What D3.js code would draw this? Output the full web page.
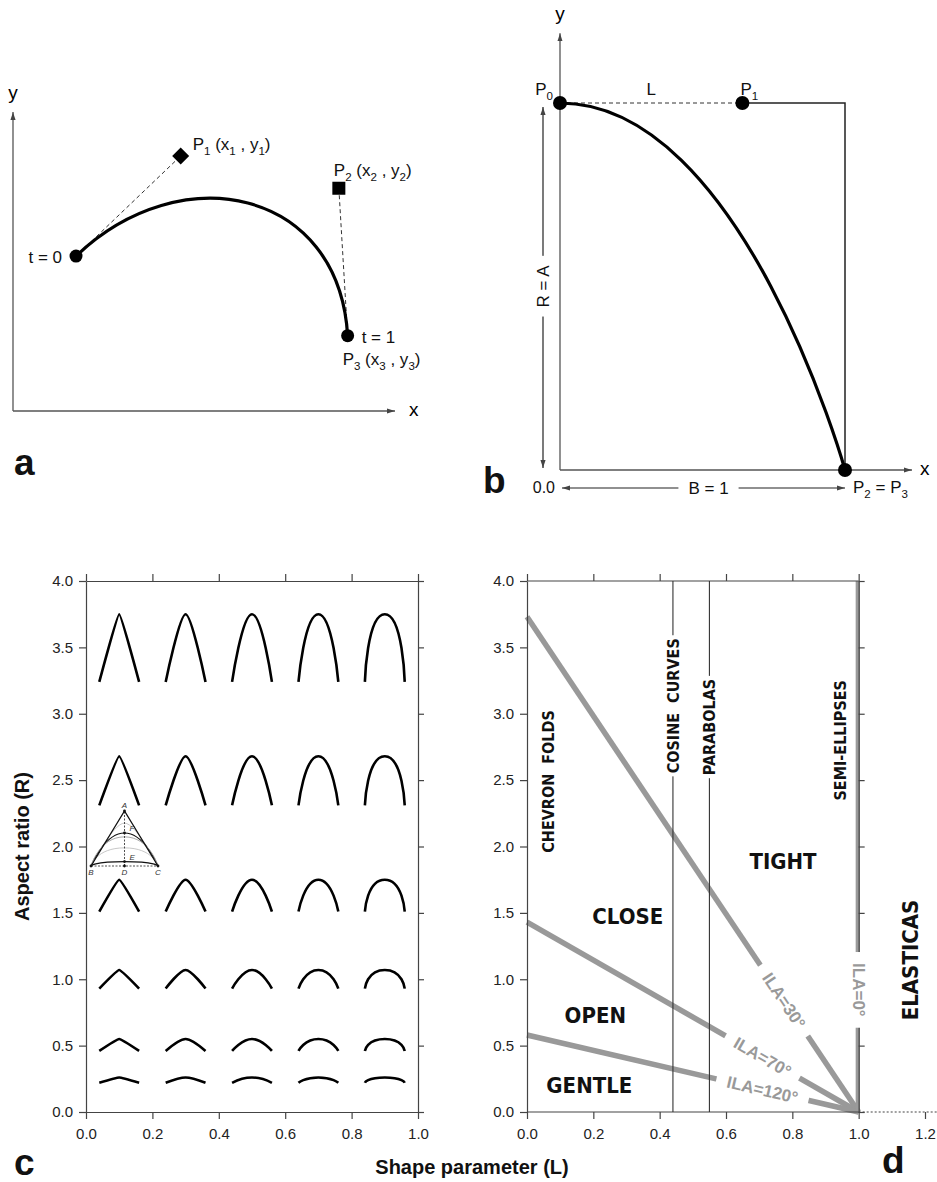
<!DOCTYPE html>
<html>
<head>
<meta charset="utf-8">
<script src="https://cdn.jsdelivr.net/npm/d3@7"></script>
<style>
  body { margin: 0; background: #fff; }
  svg { display: block; font-family: "Liberation Sans", Arial, sans-serif; }
  text { white-space: pre; }
  .narrow { font-family: "Liberation Sans Narrow", "Arial Narrow", "DejaVu Sans Condensed", sans-serif; font-weight: bold; }
  .tick text { font-family: "Liberation Sans", Arial, sans-serif; font-size: 15px; fill: #222; }
  .tick line, .domain { stroke: #444; stroke-width: 1.2; }
</style>
</head>
<body>
<div id="chart"></div>
<script>
// ---------- data ----------
// panel a: cubic Bezier control points P0..P3 (axis units 0..1)
const ctrlX = [0.165, 0.439, 0.853, 0.876];
const ctrlY = [0.518, 0.853, 0.745, 0.252];

// panel b: quarter fold with B = 1, R = A = 1 and shape parameter L
const foldL = 0.64;

// panel c: grid of fold glyphs
const glyphL = [0.1, 0.3, 0.5, 0.7, 0.9];          // column centre = shape parameter
const glyphApex = [3.75, 2.68, 1.75, 1.07, 0.55, 0.26];
const glyphBase = [3.24, 2.31, 1.51, 0.93, 0.46, 0.22];
const glyphHalfWidth = 0.06;

// inset triangle: fold curves (hinge height, shape parameter, tone)
const insetH = [0.78, 0.60, 0.53, 0.33, 0.08];
const insetL = [0.35, 0.60, 0.75, 0.85, 0.95];
const insetTone = ["#c8c8c8", "#111", "#aaa", "#c8c8c8", "#111"];

// panel d
const ilaNames = ["ILA=30°", "ILA=70°", "ILA=120°"];
const ilaR0 = [3.73, 1.43, 0.58];                    // R at L = 0, all meet at (1, 0)
const shapeNames = ["COSINE  CURVES", "PARABOLAS"];
const shapeL = [0.44, 0.55];
const regionNames = ["TIGHT", "CLOSE", "OPEN", "GENTLE"];

const xTicks = [0, 0.2, 0.4, 0.6, 0.8, 1.0];
const xTicksD = [0, 0.2, 0.4, 0.6, 0.8, 1.0, 1.2];
const yTicks = [0, 0.5, 1.0, 1.5, 2.0, 2.5, 3.0, 3.5, 4.0];

// ---------- setup ----------
const W = 937, H = 1182;
const svg = d3.select("#chart").append("svg").attr("width", W).attr("height", H);

svg.append("defs").append("marker")
    .attr("id", "arrow")
    .attr("viewBox", "0 0 10 10")
    .attr("refX", 10).attr("refY", 5)
    .attr("markerWidth", 8).attr("markerHeight", 8)
    .attr("markerUnits", "userSpaceOnUse")
    .attr("orient", "auto-start-reverse")
    .append("path")
    .attr("d", "M0,1.8L10,5L0,8.2z")
    .attr("fill", "#444");

// text with subscripts: parts = [[string, isSub], ...]
function richText(g, x, y, parts, size, anchor) {
    const t = g.append("text").attr("x", x).attr("y", y)
        .attr("font-size", size).attr("text-anchor", anchor || "start").attr("fill", "#111");
    let prev = false;
    const s = size * 0.3;
    parts.forEach(([str, sub]) => {
        t.append("tspan").text(str)
            .attr("font-size", sub ? size * 0.68 : size)
            .attr("dy", (sub ? s : 0) - (prev ? s : 0));
        prev = sub;
    });
    return t;
}

// label with a white box behind it (cuts the line it sits on)
function haloText(g, x, y, angle, txt, cls, size, fill, pad) {
    const gg = g.append("g").attr("transform", `translate(${x},${y}) rotate(${angle})`);
    const r = gg.append("rect").attr("fill", "#fff");
    const t = gg.append("text").attr("class", cls)
        .attr("text-anchor", "middle").attr("dy", "0.35em")
        .attr("font-size", size).attr("fill", fill).text(txt);
    const bb = t.node().getBBox();
    r.attr("x", bb.x - pad).attr("y", bb.y).attr("width", bb.width + 2 * pad).attr("height", bb.height);
    return gg;
}

// symmetric fold: each limb is a cubic Bezier P0 = hinge, P1 = (L, 1), P2 = P3 = inflection
function foldPath(cx, hw, apex, base, L, xs, ys) {
    const X = u => xs(cx + u * hw), Y = v => ys(base + v * (apex - base));
    const p = d3.path();
    p.moveTo(X(-1), Y(0));
    p.bezierCurveTo(X(-1), Y(0), X(-L), Y(1), X(0), Y(1));
    p.bezierCurveTo(X(L), Y(1), X(1), Y(0), X(1), Y(0));
    return p.toString();
}

function panelLetter(x, y, s) {
    svg.append("text").attr("x", x).attr("y", y).attr("font-size", 37)
        .attr("font-weight", "bold").attr("fill", "#111").text(s);
}

// ---------- panel a ----------
const xA = d3.scaleLinear().domain([0, 1]).range([13, 395]);
const yA = d3.scaleLinear().domain([0, 1]).range([411, 112]);
const gA = svg.append("g");

gA.append("line").attr("x1", xA(0)).attr("y1", yA(0)).attr("x2", xA(1)).attr("y2", yA(0))
    .attr("stroke", "#555").attr("stroke-width", 1.3).attr("marker-end", "url(#arrow)");
gA.append("line").attr("x1", xA(0)).attr("y1", yA(0)).attr("x2", xA(0)).attr("y2", yA(1))
    .attr("stroke", "#555").attr("stroke-width", 1.3).attr("marker-end", "url(#arrow)");
gA.append("text").attr("x", xA(0)).attr("y", yA(1) - 13).attr("text-anchor", "middle")
    .attr("font-size", 19).text("y");
gA.append("text").attr("x", xA(1) + 14).attr("y", yA(0) + 5).attr("font-size", 19).text("x");

const pa = ctrlX.map((x, i) => [xA(x), yA(ctrlY[i])]);
[[0, 1], [2, 3]].forEach(([i, j]) => {
    gA.append("line").attr("x1", pa[i][0]).attr("y1", pa[i][1]).attr("x2", pa[j][0]).attr("y2", pa[j][1])
        .attr("stroke", "#333").attr("stroke-width", 1).attr("stroke-dasharray", "4,3");
});
const pathA = d3.path();
pathA.moveTo(...pa[0]);
pathA.bezierCurveTo(...pa[1], ...pa[2], ...pa[3]);
gA.append("path").attr("d", pathA.toString()).attr("fill", "none")
    .attr("stroke", "#000").attr("stroke-width", 3.2);

gA.append("circle").attr("cx", pa[0][0]).attr("cy", pa[0][1]).attr("r", 6.5).attr("fill", "#000");
gA.append("circle").attr("cx", pa[3][0]).attr("cy", pa[3][1]).attr("r", 6.5).attr("fill", "#000");
gA.append("rect").attr("x", -6).attr("y", -6).attr("width", 12).attr("height", 12)
    .attr("transform", `translate(${pa[1][0]},${pa[1][1]}) rotate(45)`).attr("fill", "#000");
gA.append("rect").attr("x", pa[2][0] - 6.5).attr("y", pa[2][1] - 6.5)
    .attr("width", 13).attr("height", 13).attr("fill", "#000");

richText(gA, pa[0][0] - 14, pa[0][1] + 7, [["t = 0", false]], 17, "end");
richText(gA, pa[1][0] + 12, pa[1][1] - 6,
    [["P", false], ["1", true], [" (x", false], ["1", true], [" , y", false], ["1", true], [")", false]], 17);
richText(gA, pa[2][0] - 5, pa[2][1] - 12,
    [["P", false], ["2", true], [" (x", false], ["2", true], [" , y", false], ["2", true], [")", false]], 17);
richText(gA, pa[3][0] + 14, pa[3][1] + 7.5, [["t = 1", false]], 17);
richText(gA, pa[3][0] - 5, pa[3][1] + 29,
    [["P", false], ["3", true], [" (x", false], ["3", true], [" , y", false], ["3", true], [")", false]], 17);
panelLetter(14, 475, "a");

// ---------- panel b ----------
const xB = d3.scaleLinear().domain([0, 1]).range([560, 845]);
const yB = d3.scaleLinear().domain([0, 1]).range([470, 103]);
const gB = svg.append("g");

gB.append("line").attr("x1", xB(0)).attr("y1", yB(0)).attr("x2", xB(1.235)).attr("y2", yB(0))
    .attr("stroke", "#555").attr("stroke-width", 1.3).attr("marker-end", "url(#arrow)");
gB.append("line").attr("x1", xB(0)).attr("y1", yB(0)).attr("x2", xB(0)).attr("y2", yB(1.19))
    .attr("stroke", "#555").attr("stroke-width", 1.3).attr("marker-end", "url(#arrow)");
gB.append("text").attr("x", xB(0)).attr("y", yB(1.19) - 13).attr("text-anchor", "middle")
    .attr("font-size", 19).text("y");
gB.append("text").attr("x", xB(1.235) + 8).attr("y", yB(0) + 5).attr("font-size", 19).text("x");

// bounding box B x A (top and right sides)
gB.append("path")
    .attr("d", `M${xB(foldL)},${yB(1)}H${xB(1)}V${yB(0)}`)
    .attr("fill", "none").attr("stroke", "#222").attr("stroke-width", 1.5);
gB.append("line").attr("x1", xB(0)).attr("y1", yB(1)).attr("x2", xB(foldL)).attr("y2", yB(1))
    .attr("stroke", "#333").attr("stroke-width", 1).attr("stroke-dasharray", "4,3");

const pathB = d3.path();
pathB.moveTo(xB(0), yB(1));
pathB.bezierCurveTo(xB(foldL), yB(1), xB(1), yB(0), xB(1), yB(0));
gB.append("path").attr("d", pathB.toString()).attr("fill", "none")
    .attr("stroke", "#000").attr("stroke-width", 3.2);
[[0, 1], [foldL, 1], [1, 0]].forEach(([x, y]) => {
    gB.append("circle").attr("cx", xB(x)).attr("cy", yB(y)).attr("r", 7).attr("fill", "#000");
});

richText(gB, xB(0) - 7, yB(1) - 8, [["P", false], ["0", true]], 17, "end");
richText(gB, (xB(0) + xB(foldL)) / 2, yB(1) - 8, [["L", false]], 17, "middle");
richText(gB, xB(foldL) - 2, yB(1) - 8, [["P", false], ["1", true]], 17);

// dimension arrows
const arrowX = xB(0) - 17, arrowY = yB(0) + 18;
gB.append("line").attr("x1", arrowX).attr("y1", yB(0) - 2).attr("x2", arrowX).attr("y2", yB(1) + 4)
    .attr("stroke", "#222").attr("stroke-width", 1.2)
    .attr("marker-start", "url(#arrow)").attr("marker-end", "url(#arrow)");
gB.append("line").attr("x1", xB(0) + 2).attr("y1", arrowY).attr("x2", xB(1)).attr("y2", arrowY)
    .attr("stroke", "#222").attr("stroke-width", 1.2)
    .attr("marker-start", "url(#arrow)").attr("marker-end", "url(#arrow)");
haloText(gB, arrowX, (yB(0) + yB(1)) / 2, -90, "R = A", null, 17, "#111", 9);
haloText(gB, (xB(0) + xB(1)) / 2 + 6, arrowY, 0, "B = 1", null, 17, "#111", 10);
richText(gB, xB(0) - 5, arrowY + 5, [["0.0", false]], 16, "end");
richText(gB, xB(1) + 8, arrowY + 5, [["P", false], ["2", true], [" = P", false], ["3", true]], 17);
panelLetter(483, 493, "b");

// ---------- shared axis frame ----------
const yC = d3.scaleLinear().domain([0, 4]).range([1112, 581]);
const fmt = d3.format(".1f");

function leftRight(g, x0, x1) {
    g.append("g").attr("transform", `translate(${x0},0)`)
        .call(d3.axisLeft(yC).tickValues(yTicks).tickFormat(fmt).tickSize(7).tickPadding(6).tickSizeOuter(0));
    g.append("g").attr("transform", `translate(${x1},0)`)
        .call(d3.axisRight(yC).tickValues(yTicks).tickFormat("").tickSize(6).tickSizeOuter(0));
}

// ---------- panel c ----------
const xC = d3.scaleLinear().domain([0, 1]).range([86, 418]);
const gC = svg.append("g");
gC.append("g").attr("transform", `translate(0,${yC(0)})`)
    .call(d3.axisBottom(xC).tickValues(xTicks).tickFormat(fmt).tickSize(7).tickPadding(9).tickSizeOuter(0));
gC.append("g").attr("transform", `translate(0,${yC(4)})`)
    .call(d3.axisTop(xC).tickValues(xTicks).tickFormat("").tickSize(7).tickSizeOuter(0));
leftRight(gC, xC(0), xC(1));

glyphApex.forEach((apex, r) => {
    glyphL.forEach(L => {
        gC.append("path")
            .attr("d", foldPath(L, glyphHalfWidth, apex, glyphBase[r], L, xC, yC))
            .attr("fill", "none").attr("stroke", "#000").attr("stroke-width", 2.6);
    });
});

// inset triangle
const xI = d3.scaleLinear().domain([-1, 1]).range([91, 158]);
const yI = d3.scaleLinear().domain([0, 1]).range([866, 811]);
const gI = gC.append("g");
insetH.forEach((h, i) => {
    gI.append("path").attr("d", foldPath(0, 1, h, 0, insetL[i], xI, yI))
        .attr("fill", "none").attr("stroke", insetTone[i]).attr("stroke-width", insetTone[i] === "#111" ? 1.2 : 1);
});
gI.append("path").attr("d", `M${xI(-1)},${yI(0)}L${xI(0)},${yI(1)}L${xI(1)},${yI(0)}`)
    .attr("fill", "none").attr("stroke", "#111").attr("stroke-width", 1.3);
gI.append("path").attr("d", `M${xI(-1)},${yI(0)}H${xI(1)}M${xI(0)},${yI(0)}V${yI(1)}`)
    .attr("fill", "none").attr("stroke", "#222").attr("stroke-width", 0.8).attr("stroke-dasharray", "2,1.5");
const insetPts = [["A", 0, 1], ["B", -1, 0], ["C", 1, 0], ["D", 0, 0], ["E", 0, insetH[4]], ["F", 0, insetH[1]]];
insetPts.forEach(([n, x, y]) => {
    gI.append("circle").attr("cx", xI(x)).attr("cy", yI(y)).attr("r", 1.4).attr("fill", "#111");
    const below = y === 0, top = n === "A";
    gI.append("text")
        .attr("x", xI(x) + (below || top ? 0 : 5)).attr("y", top ? yI(y) - 3 : below ? yI(y) + 9 : yI(y) - 2)
        .attr("text-anchor", below || top ? "middle" : "start")
        .attr("font-size", 8).attr("font-style", "italic").attr("fill", "#333").text(n);
});

svg.append("text").attr("transform", `translate(29,${yC(2) + 0}) rotate(-90)`)
    .attr("text-anchor", "middle").attr("font-size", 20).attr("font-weight", "bold")
    .attr("fill", "#111").text("Aspect ratio (R)");
svg.append("text").attr("x", 472).attr("y", 1174).attr("text-anchor", "middle")
    .attr("font-size", 20).attr("font-weight", "bold").attr("fill", "#111").text("Shape parameter (L)");
panelLetter(14, 1175, "c");

// ---------- panel d ----------
const xD = d3.scaleLinear().domain([0, 1.2]).range([527, 925]);
const gD = svg.append("g");
const lineD = d3.line().x(d => xD(d[0])).y(d => yC(d[1]));

// ILA lines (grey)
ilaR0.forEach(r0 => {
    gD.append("path").attr("d", lineD([[0, r0], [1, 0]]))
        .attr("fill", "none").attr("stroke", "#999").attr("stroke-width", 5.5);
});
gD.append("path").attr("d", lineD([[1, 0], [1, 4]]))
    .attr("transform", "translate(-1,0)")
    .attr("stroke", "#9a9a9a").attr("stroke-width", 4);

// axes
const bottomD = gD.append("g").attr("transform", `translate(0,${yC(0)})`)
    .call(d3.axisBottom(xD).tickValues(xTicksD).tickFormat(fmt).tickSize(7).tickPadding(9).tickSizeOuter(0));
bottomD.select(".domain").attr("d", `M${xD(0)},0H${xD(1)}`);
gD.append("path").attr("d", lineD([[1, 0], [1.24, 0]]))
    .attr("stroke", "#444").attr("stroke-width", 1.2).attr("stroke-dasharray", "2,2");
const topD = gD.append("g").attr("transform", `translate(0,${yC(4)})`)
    .call(d3.axisTop(xD).tickValues(xTicks).tickFormat("").tickSize(7).tickSizeOuter(0));
topD.select(".domain").attr("d", `M${xD(0)},0H${xD(1)}`);
leftRight(gD, xD(0), xD(1));

// shape boundaries (thin)
shapeL.forEach(L => {
    gD.append("path").attr("d", lineD([[L, 0], [L, 4]]))
        .attr("stroke", "#333").attr("stroke-width", 1.1);
});

// labels
const pxSlope = r0 => Math.atan2(yC(0) - yC(r0), xD(1) - xD(0)) * 180 / Math.PI;
const ilaLabelAt = [0.775, 0.71, 0.71];
ilaNames.forEach((n, i) => {
    const L = ilaLabelAt[i];
    haloText(gD, xD(L), yC(ilaR0[i] * (1 - L)), pxSlope(ilaR0[i]), n, null, 17, "#999", 12)
        .select("text").attr("font-weight", "bold");
});
haloText(gD, xD(1), yC(0.92), 90, "ILA=0°", null, 17, "#999", 12)
    .select("text").attr("font-weight", "bold");

const shapeLabelR = [3.06, 2.9];
shapeNames.forEach((n, i) => {
    haloText(gD, xD(shapeL[i]), yC(shapeLabelR[i]), -90, n, "narrow", 16, "#111", 3);
});
haloText(gD, xD(0.065), yC(2.49), -90, "CHEVRON  FOLDS", "narrow", 16, "#111", 0);
haloText(gD, xD(0.945), yC(2.80), -90, "SEMI-ELLIPSES", "narrow", 16, "#111", 0);

const regionAt = [[0.772, 1.885], [0.304, 1.476], [0.206, 0.725], [0.188, 0.198]];
regionNames.forEach((n, i) => {
    gD.append("text").attr("class", "narrow")
        .attr("x", xD(regionAt[i][0])).attr("y", yC(regionAt[i][1])).attr("dy", "0.35em")
        .attr("text-anchor", "middle").attr("font-size", 22).attr("fill", "#111").text(n);
});
gD.append("text").attr("class", "narrow")
    .attr("transform", `translate(${xD(1.156)},${yC(1.145)}) rotate(-90)`).attr("dy", "0.35em")
    .attr("text-anchor", "middle").attr("font-size", 22).attr("fill", "#111").text("ELASTICAS");
panelLetter(882, 1173, "d");
</script>
</body>
</html>
